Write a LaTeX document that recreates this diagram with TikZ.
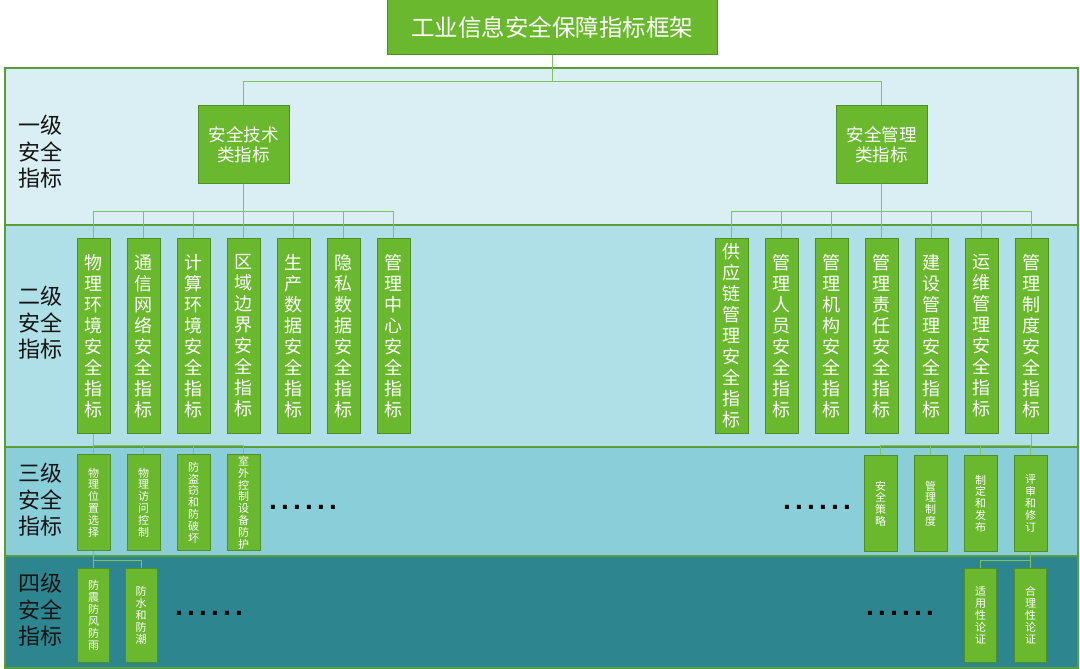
\documentclass[tikz,border=0pt]{standalone}
\usepackage{fontspec}
\setmainfont{Noto Sans CJK SC}
\newfontfamily\dotfont[LetterSpace=15]{Liberation Sans}
\definecolor{boxgreen}{RGB}{106,184,46}
\definecolor{boxedge}{RGB}{78,143,42}
\definecolor{bandedge}{RGB}{90,158,60}
\definecolor{linegreen}{RGB}{128,194,98}
\definecolor{bandA}{RGB}{218,239,243}
\definecolor{bandB}{RGB}{176,224,231}
\definecolor{bandC}{RGB}{138,206,218}
\definecolor{bandD}{RGB}{44,133,143}
\definecolor{labeltext}{RGB}{20,20,20}
\tikzset{
  gbox/.style={draw=boxedge, fill=boxgreen, text=white, line width=1pt, inner sep=0pt, align=center},
  titlebox/.style={gbox, minimum width=330, minimum height=55, font=\fontsize{23.5}{26}\selectfont},
  onebox/.style={gbox, minimum width=91, minimum height=77, font=\fontsize{17.5}{20}\selectfont},
  twobox/.style={gbox, anchor=north, minimum width=33, minimum height=195, font=\fontsize{18}{21}\selectfont},
  threebox/.style={gbox, anchor=north, minimum width=33, minimum height=96, font=\fontsize{11}{11.8}\selectfont},
  fourbox/.style={gbox, anchor=north, minimum width=32, minimum height=94, font=\fontsize{11}{12}\selectfont},
  band/.style={draw=bandedge, line width=1.6pt},
  conn/.style={draw=linegreen, line width=0.9pt},
  lvlabel/.style={align=center, text=labeltext, font=\fontsize{22}{26.5}\selectfont},
  dotrow/.style={text=black, font=\dotfont\bfseries\fontsize{28}{28}\selectfont},
}
\begin{document}
\begin{tikzpicture}[x=1pt,y=-1pt]
\useasboundingbox (0,0) rectangle (1080,669);
% bands
\path[fill=bandA] (5,68) rectangle (1078,225);
\path[fill=bandB] (5,225) rectangle (1078,447);
\path[fill=bandC] (5,447) rectangle (1078,556);
\path[fill=bandD] (5,556) rectangle (1078,668);
\draw[band] (5,68) rectangle (1078,668);
\draw[band] (5,225) -- (1078,225);
\draw[band] (5,447) -- (1078,447);
\draw[band] (5,556) -- (1078,556);

% level labels
\node[lvlabel] (lab1) at (40,152) {一级\\安全\\指标};
\node[lvlabel] (lab2) at (40,323) {二级\\安全\\指标};
\node[lvlabel] (lab3) at (40,500) {三级\\安全\\指标};
\node[lvlabel] (lab4) at (40,610) {四级\\安全\\指标};

% title & level 1
\node[titlebox] (title) at (552,27.5) {工业信息安全保障指标框架};
\node[onebox] (tech) at (243.5,144.5) {安全技术\\类指标};
\node[onebox] (mgmt) at (881.5,144.5) {安全管理\\类指标};

% level 2 technical
\node[twobox] (t1) at (93.5,238) {物\\理\\环\\境\\安\\全\\指\\标};
\node[twobox] (t2) at (143.5,238) {通\\信\\网\\络\\安\\全\\指\\标};
\node[twobox] (t3) at (193.5,238) {计\\算\\环\\境\\安\\全\\指\\标};
\node[twobox] (t4) at (243.5,238) {区\\域\\边\\界\\安\\全\\指\\标};
\node[twobox] (t5) at (293.5,238) {生\\产\\数\\据\\安\\全\\指\\标};
\node[twobox] (t6) at (343.5,238) {隐\\私\\数\\据\\安\\全\\指\\标};
\node[twobox] (t7) at (393.5,238) {管\\理\\中\\心\\安\\全\\指\\标};
% level 2 management
\node[twobox] (m1) at (731.5,238) {供\\应\\链\\管\\理\\安\\全\\指\\标};
\node[twobox] (m2) at (781.5,238) {管\\理\\人\\员\\安\\全\\指\\标};
\node[twobox] (m3) at (831.5,238) {管\\理\\机\\构\\安\\全\\指\\标};
\node[twobox] (m4) at (881.5,238) {管\\理\\责\\任\\安\\全\\指\\标};
\node[twobox] (m5) at (931.5,238) {建\\设\\管\\理\\安\\全\\指\\标};
\node[twobox] (m6) at (981.5,238) {运\\维\\管\\理\\安\\全\\指\\标};
\node[twobox] (m7) at (1031.5,238) {管\\理\\制\\度\\安\\全\\指\\标};

% level 3
\node[threebox] (p1) at (93.5,454) {物\\理\\位\\置\\选\\择};
\node[threebox] (p2) at (143.5,454) {物\\理\\访\\问\\控\\制};
\node[threebox] (p3) at (193.5,454) {防\\盗\\窃\\和\\防\\破\\坏};
\node[threebox] (p4) at (243.5,454) {室\\外\\控\\制\\设\\备\\防\\护};
\node[threebox] (r1) at (880.5,455) {安\\全\\策\\略};
\node[threebox] (r2) at (930.5,455) {管\\理\\制\\度};
\node[threebox] (r3) at (980.5,455) {制\\定\\和\\发\\布};
\node[threebox] (r4) at (1030.5,455) {评\\审\\和\\修\\订};

% level 4
\node[fourbox] (q1) at (93.5,568) {防\\震\\防\\风\\防\\雨};
\node[fourbox] (q2) at (141,568) {防\\水\\和\\防\\潮};
\node[fourbox] (s1) at (980.5,568) {适\\用\\性\\论\\证};
\node[fourbox] (s2) at (1030.5,568) {合\\理\\性\\论\\证};

% dots
\node[dotrow] (d1) at (303,507) {......};
\node[dotrow] (d2) at (817,507) {......};
\node[dotrow] (d3) at (209,613) {......};
\node[dotrow] (d4) at (900,613) {......};

% connectors
\foreach \c in {tech,mgmt} \draw[conn] (title.south) -- ++(0,26) -| (\c.north);
\foreach \c in {t1,t2,t3,t4,t5,t6,t7} \draw[conn] (tech.south) -- ++(0,28) -| (\c.north);
\foreach \c in {m1,m2,m3,m4,m5,m6,m7} \draw[conn] (mgmt.south) -- ++(0,28) -| (\c.north);
\foreach \c in {p1,p2,p3,p4} \draw[conn] (t1.south) -- ++(0,11) -| (\c.north);
\foreach \c in {r1,r2,r3,r4} \draw[conn] (m7.south) -- ++(0,11) -| (\c.north);
\foreach \c in {q1,q2} \draw[conn] (p1.south) -- ++(0,9) -| (\c.north);
\foreach \c in {s1,s2} \draw[conn] (r4.south) -- ++(0,8) -| (\c.north);
\end{tikzpicture}
\end{document}
